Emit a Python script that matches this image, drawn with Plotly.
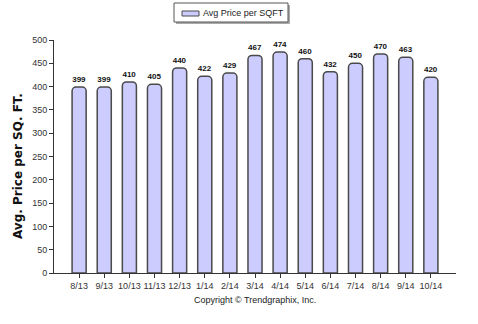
import plotly.graph_objects as go

months = ["8/13", "9/13", "10/13", "11/13", "12/13", "1/14", "2/14", "3/14",
          "4/14", "5/14", "6/14", "7/14", "8/14", "9/14", "10/14"]
prices = [399, 399, 410, 405, 440, 422, 429, 467, 474, 460, 432, 450, 470, 463, 420]
y_ticks = [0, 50, 100, 150, 200, 250, 300, 350, 400, 450, 500]
series_name = "Avg Price per SQFT"

W, H = 478, 324
L, R, T, B = 54, 22, 40, 51
PW, PH = W - L - R, H - T - B


def px(x):
    return (x - L) / PW


def py(y):
    return (H - B - y) / PH


BAR_FILL = "#ccccff"
BAR_LINE = "#4a4a4a"

fig = go.Figure()
fig.add_trace(go.Bar(
    x=list(range(len(months))), y=prices,
    name=series_name, showlegend=False,
    marker=dict(color=BAR_FILL, line=dict(color=BAR_LINE, width=1.5), cornerradius=4),
    width=0.56,
    text=[str(p) for p in prices], textposition="outside",
    textfont=dict(family="Liberation Sans, Arial", size=8, color="#111111", weight="bold"),
    cliponaxis=False,
))

fig.update_layout(
    width=W, height=H,
    margin=dict(l=L, r=R, t=T, b=B, autoexpand=False),
    plot_bgcolor="white", paper_bgcolor="white",
    showlegend=False,
    font=dict(family="Liberation Sans, Arial", size=9, color="#333333"),
    xaxis=dict(range=[-1, 15], tickmode="array", tickvals=list(range(len(months))),
               ticktext=months, ticks="outside", ticklen=4, tickcolor="#333333",
               showline=True, linecolor="#333333", linewidth=1, showgrid=False,
               zeroline=False, tickfont=dict(size=9, color="#333333")),
    yaxis=dict(range=[0, 500], tickvals=y_ticks, ticks="outside", ticklen=4,
               tickcolor="#333333", showline=True, linecolor="#333333", linewidth=1,
               showgrid=False, zeroline=False, tickfont=dict(size=9, color="#333333")),
)

# y-axis title
fig.add_annotation(text="Avg. Price per SQ. FT.", xref="paper", yref="paper",
                   x=px(18), y=py(166), xanchor="center", yanchor="middle",
                   textangle=-90, showarrow=False,
                   font=dict(family="DejaVu Sans, Verdana", size=12, color="#111111", weight="bold"))

# legend box (with drop shadow)
fig.add_shape(type="rect", xref="paper", yref="paper",
              x0=px(176), x1=px(290), y0=py(24), y1=py(5),
              fillcolor="#aaaaaa", line=dict(width=0), layer="above")
fig.add_shape(type="rect", xref="paper", yref="paper",
              x0=px(174), x1=px(288), y0=py(22), y1=py(3),
              fillcolor="white", line=dict(color="#555555", width=1), layer="above")
fig.add_shape(type="rect", xref="paper", yref="paper",
              x0=px(182), x1=px(199), y0=py(16), y1=py(11),
              fillcolor=BAR_FILL, line=dict(color=BAR_LINE, width=1), layer="above")
fig.add_annotation(text=series_name, xref="paper", yref="paper",
                   x=px(201), y=py(13), xanchor="left", yanchor="middle", showarrow=False,
                   font=dict(family="Liberation Sans, Arial", size=9, color="#222222"))

fig.add_annotation(text="Copyright © Trendgraphix, Inc.", xref="paper", yref="paper",
                   x=0.5, y=py(293), xanchor="center", yanchor="top", showarrow=False,
                   font=dict(family="Liberation Sans, Arial", size=9, color="#222222"))

fig.write_html("out.html")
